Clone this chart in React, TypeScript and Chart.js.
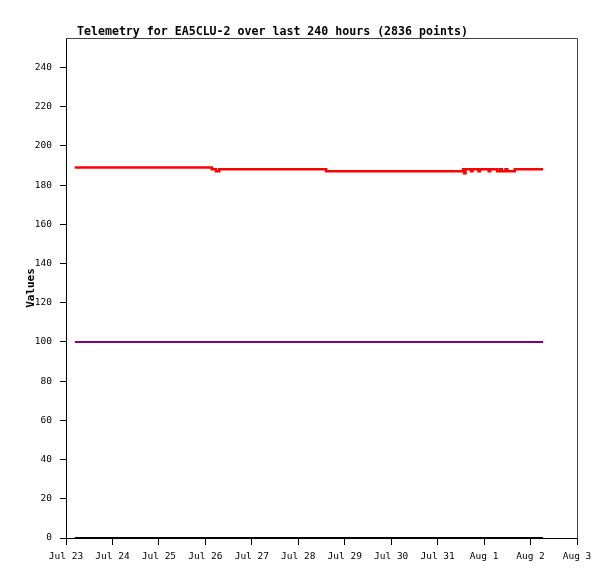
import { useEffect, useRef } from "react";
import { Chart, registerables } from "chart.js";

Chart.register(...registerables);

// x positions are days since Jul 23 00:00
const dayLabels = [
  "Jul 23", "Jul 24", "Jul 25", "Jul 26", "Jul 27", "Jul 28",
  "Jul 29", "Jul 30", "Jul 31", "Aug 1", "Aug 2", "Aug 3",
];
const yTicks = [0, 20, 40, 60, 80, 100, 120, 140, 160, 180, 200, 220, 240];

const redTimes = [
  0.19, 3.14, 3.23, 3.3, 5.6, 8.55, 8.57, 8.6, 8.72, 8.75, 8.88, 8.91,
  9.1, 9.13, 9.28, 9.34, 9.38, 9.46, 9.5, 9.66, 10.27,
];
const redValues = [
  189, 188, 187, 188, 187, 188, 186, 188, 187, 188, 187, 188,
  187, 188, 187, 188, 187, 188, 187, 188, 188,
];
const purpleTimes = [0.19, 10.27];
const purpleValues = [100, 100];
const blackTimes = [0.19, 10.27];
const blackValues = [0, 0];

const titleText = "Telemetry for EA5CLU-2 over last 240 hours (2836 points)";
const mono = "'DejaVu Sans Mono', monospace";

const toPoints = (xs: number[], ys: number[]) => xs.map((x, i) => ({ x, y: ys[i] }));

const framePlugin = {
  id: "frame",
  afterDraw(chart: Chart) {
    const { ctx, chartArea } = chart;
    ctx.save();
    ctx.strokeStyle = "#444444";
    ctx.lineWidth = 1;
    ctx.beginPath();
    ctx.moveTo(chartArea.left, chartArea.top + 0.5);
    ctx.lineTo(chartArea.right + 0.5, chartArea.top + 0.5);
    ctx.lineTo(chartArea.right + 0.5, chartArea.bottom);
    ctx.stroke();
    ctx.fillStyle = "#000";
    ctx.font = `bold 11.6px ${mono}`;
    ctx.textBaseline = "alphabetic";
    ctx.textAlign = "left";
    ctx.fillText(titleText, chartArea.left + 11, chartArea.top - 3);
    ctx.restore();
  },
};

export default function App() {
  const chartRef = useRef<HTMLCanvasElement>(null);
  const chartInstance = useRef<Chart | null>(null);

  useEffect(() => {
    document.body.style.margin = "0";
    if (!chartRef.current) return;
    if (chartInstance.current) chartInstance.current.destroy();
    const ctx = chartRef.current.getContext("2d");
    if (!ctx) return;

    chartInstance.current = new Chart(ctx, {
      type: "line",
      data: {
        datasets: [
          {
            data: toPoints(redTimes, redValues),
            borderColor: "#ff0000",
            borderWidth: 2.5,
            stepped: true,
            pointRadius: 0,
          },
          {
            data: toPoints(purpleTimes, purpleValues),
            borderColor: "#800080",
            borderWidth: 2,
            pointRadius: 0,
          },
          {
            data: toPoints(blackTimes, blackValues),
            borderColor: "#000000",
            borderWidth: 2,
            pointRadius: 0,
          },
        ],
      },
      options: {
        responsive: false,
        animation: false,
        layout: { padding: { top: 38, right: 38, left: 0, bottom: 0 } },
        scales: {
          x: {
            type: "linear",
            min: 0,
            max: 11,
            afterBuildTicks: (scale: any) => {
              scale.ticks = dayLabels.map((_, i) => ({ value: i }));
            },
            afterFit: (scale: any) => {
              scale.height = 41;
            },
            ticks: {
              callback: (v: any) => dayLabels[v] ?? "",
              font: { family: mono, size: 9.5 },
              color: "#000",
              padding: 6,
              maxRotation: 0,
              autoSkip: false,
            },
            grid: {
              drawOnChartArea: false,
              drawTicks: true,
              tickLength: 7,
              color: "#000",
            },
            border: { display: true, color: "#000", width: 1 },
          },
          y: {
            min: 0,
            max: 255,
            afterBuildTicks: (scale: any) => {
              scale.ticks = yTicks.map((v) => ({ value: v }));
            },
            afterFit: (scale: any) => {
              scale.width = 66;
            },
            ticks: {
              font: { family: mono, size: 9.5 },
              color: "#000",
              padding: 8,
            },
            grid: {
              drawOnChartArea: false,
              drawTicks: true,
              tickLength: 6,
              color: "#000",
            },
            border: { display: true, color: "#000", width: 1 },
            title: {
              display: true,
              text: "Values",
              color: "#000",
              font: { family: mono, size: 11, weight: "bold" },
              padding: { top: 25, bottom: 0 },
            },
          },
        },
        plugins: {
          legend: { display: false },
          tooltip: { enabled: false },
        },
      },
      plugins: [framePlugin],
    });

    return () => {
      if (chartInstance.current) {
        chartInstance.current.destroy();
        chartInstance.current = null;
      }
    };
  }, []);

  return (
    <div style={{ width: 615, height: 579, background: "#fff" }}>
      <canvas ref={chartRef} width={615} height={579} />
    </div>
  );
}
